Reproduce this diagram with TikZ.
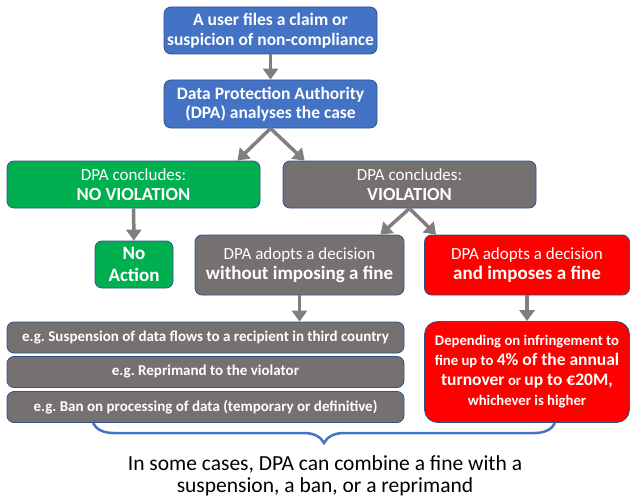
\documentclass[tikz,border=0pt]{standalone}
\usepackage{fontspec}
\setmainfont{Carlito}
\usetikzlibrary{arrows.meta,decorations.pathreplacing}
\definecolor{boxblue}{HTML}{4472C4}
\definecolor{edgeblue}{HTML}{2F528F}
\definecolor{okgreen}{HTML}{00B050}
\definecolor{darkgrey}{HTML}{767171}
\definecolor{finered}{HTML}{FF0000}
\definecolor{arrowgrey}{HTML}{7F7F7F}
\tikzstyle{step-box}=[draw=edgeblue, line width=0.8pt, rounded corners=7pt,
                      text=white, align=center, inner sep=0pt]
\tikzstyle{blue-box}=[step-box, fill=boxblue, minimum width=213pt,
                      font=\bfseries\fontsize{17.5}{19.5}\selectfont]
\tikzstyle{green-box}=[step-box, fill=okgreen, font=\fontsize{17}{20}\selectfont]
\tikzstyle{grey-box}=[step-box, fill=darkgrey, font=\fontsize{17}{20}\selectfont]
\tikzstyle{red-box}=[step-box, fill=finered, font=\fontsize{17}{20}\selectfont]
\tikzstyle{list-box}=[step-box, fill=darkgrey, minimum width=397pt, minimum height=31pt,
                      font=\bfseries\fontsize{15}{16}\selectfont]
\tikzstyle{flow-arrow}=[draw=arrowgrey, line width=3.5pt,
                        -{Triangle[length=11pt,width=15pt]}]
\tikzstyle{combine-brace}=[draw=boxblue, line width=2.5pt,
                           decorate, decoration={brace, mirror, amplitude=20pt}]

\begin{document}
\begin{tikzpicture}[x=1pt,y=-1pt]
\useasboundingbox (0,0) rectangle (631,500);
\node[blue-box, minimum height=47pt] (claim) at (270.5,30.5)
  {A user files a claim or\\suspicion of non-compliance};
\node[blue-box, minimum height=48pt] (dpa) at (270.5,104)
  {Data Protection Authority\\(DPA) analyses the case};
\node[green-box, minimum width=253pt, minimum height=47pt] (noviol) at (133.5,184.5)
  {DPA concludes:\\{\bfseries\fontsize{18.5}{20}\selectfont NO VIOLATION}};
\node[grey-box, minimum width=253pt, minimum height=47pt] (viol) at (409.5,184.5)
  {DPA concludes:\\{\bfseries\fontsize{18.5}{20}\selectfont VIOLATION}};
\node[green-box, minimum width=78pt, minimum height=47pt,
      font=\bfseries\fontsize{19}{22}\selectfont] (noaction) at (134,264.5)
  {No\\Action};
\node[grey-box, minimum width=209pt, minimum height=60pt] (nofine) at (299.5,265)
  {DPA adopts a decision\\{\bfseries\fontsize{19}{22}\selectfont without imposing a fine}};
\node[red-box, minimum width=205pt, minimum height=60pt] (withfine) at (527,265)
  {DPA adopts a decision\\{\bfseries\fontsize{19}{22}\selectfont and imposes a fine}};
\node[list-box] (susp) at (205.5,337.5)
  {e.g.\ Suspension of data flows to a recipient in third country};
\node[list-box] (reprimand) at (205.5,372)
  {e.g.\ Reprimand to the violator};
\node[list-box] (ban) at (205.5,407)
  {e.g.\ Ban on processing of data (temporary or definitive)};
\node[red-box, rounded corners=13pt, minimum width=205pt, minimum height=101pt,
      font=\bfseries\fontsize{14.7}{20}\selectfont] (finedetail) at (527,372)
  {Depending on infringement to\\
   fine up to {\fontsize{17.5}{20}\selectfont 4\% of the annual}\\
   {\fontsize{17.5}{20}\selectfont turnover} or {\fontsize{17.5}{20}\selectfont up to €20M,}\\
   whichever is higher};
\node[align=center, font=\fontsize{21.5}{22}\selectfont] (summary) at (325,476)
  {In some cases, DPA can combine a fine with a\\suspension, a ban, or a reprimand};
\coordinate (braceL) at (93,423);
\coordinate (braceR) at (555,423);

\draw[flow-arrow] (claim) to (dpa);
\draw[flow-arrow] (dpa.south) to ([xshift=-23pt]noviol.north east);
\draw[flow-arrow] (dpa.south) to ([xshift=22pt]viol.north west);
\draw[flow-arrow] (noviol) to (noaction);
\draw[flow-arrow] (viol.south) to ([xshift=-24pt]nofine.north east);
\draw[flow-arrow] (viol.south) to ([xshift=12pt]withfine.north west);
\draw[flow-arrow] (nofine.south) to (nofine.south |- susp.north);
\draw[flow-arrow] (withfine) to (finedetail);
\draw[combine-brace] (braceL) -- (braceR);

\end{tikzpicture}
\end{document}
